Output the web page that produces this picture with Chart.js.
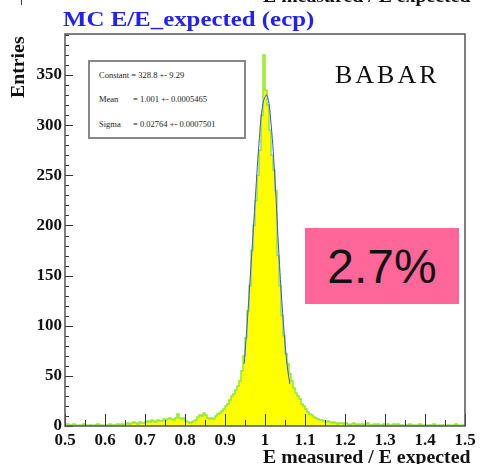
<!DOCTYPE html>
<html>
<head>
<meta charset="utf-8">
<script src="https://cdn.jsdelivr.net/npm/chart.js@4"></script>
<style>
  body { margin: 0; background: #fff; }
  #wrap { position: relative; width: 481px; height: 464px; overflow: hidden; }
  #wrap canvas { position: absolute; left: 0; top: 0; }
  .lbl { position: absolute; white-space: nowrap; font-family: 'Liberation Serif', serif; }
  #title { left: 63px; top: 6px; font-size: 22px; font-weight: bold; color: #2222f0;
           transform: scaleX(1.13); transform-origin: 0 0; }
  #cutTitle { left: 263px; top: -14px; font-size: 18px; font-weight: bold; color: #111;
              transform: scaleX(1.1); transform-origin: 0 0; }
  #cutBar { left: 21px; top: -2px; width: 1px; height: 7px; background: #444; }
  #ytitle { left: 8px; top: 98px; font-size: 18px; font-weight: bold; color: #111;
            transform: rotate(-90deg) scaleX(1.1); transform-origin: 0 0; }
  #xtitle { left: 263px; top: 447px; font-size: 18px; font-weight: bold; color: #111;
            transform: scaleX(1.1); transform-origin: 0 0; }
  #babar { left: 335px; top: 60px; font-size: 26px; letter-spacing: 3px; color: #111; }
  #stats { left: 88px; top: 60px; width: 154px; height: 75px; border: 2px solid #888;
           background: #fff; font-family: 'Liberation Serif', serif; font-size: 8.5px; color: #222; }
  #stats div { position: absolute; left: 9px; white-space: nowrap; }
  #stats span { display: inline-block; width: 34px; }
  #pink { left: 305px; top: 228px; width: 154px; height: 76px; background: #ff6699;
          font-family: 'Liberation Sans', sans-serif; font-size: 48px; color: #111;
          display: flex; align-items: center; justify-content: center; }
</style>
</head>
<body>
<div id="wrap">
  <canvas id="histChart" width="481" height="464"></canvas>
  <div class="lbl" id="cutBar"></div>
  <div class="lbl" id="cutTitle">E measured / E expected</div>
  <div class="lbl" id="title">MC E/E_expected (ecp)</div>
  <div class="lbl" id="ytitle">Entries</div>
  <div class="lbl" id="xtitle">E measured / E expected</div>
  <div class="lbl" id="babar">BABAR</div>
  <div class="lbl" id="stats">
    <div style="top:8px">Constant = 328.8 +- 9.29</div>
    <div style="top:32px"><span>Mean</span>= 1.001 +- 0.0005465</div>
    <div style="top:57px"><span>Sigma</span>= 0.02764 +- 0.0007501</div>
  </div>
  <div class="lbl" id="pink">2.7%</div>
</div>
<script>
// histogram: 200 bins of 0.005 from 0.5 to 1.5
const binStart = 0.5;
const binWidth = 0.005;
const counts = [
  1, 2, 1, 1, 2, 1, 0, 1, 1, 2, 1, 0, 1, 1, 0, 1, 2, 1, 1, 0, 1, 1, 2, 1, 1,
  1, 2, 1, 2, 1, 2,
  3, 2, 3, 4, 3, 2, 4, 3, 3, 4,
  5, 4, 6, 5, 4, 6, 5, 5,
  7, 6, 7, 8, 7, 6, 8,
  12,
  8, 7, 8,
  5, 4, 3, 4, 5, 6,
  9, 11, 10, 13, 11,
  8, 7, 8, 7, 10,
  12, 13, 15, 17,
  20, 22, 26,
  30, 32, 36,
  40, 45, 55, 70,
  88, 115, 140, 175, 200, 225, 250, 275, 310,
  370,
  335,
  320,
  295, 270, 255, 235, 170, 140, 110, 90, 72,
  62, 52, 45, 38, 33, 30, 27, 22, 20, 17,
  14, 12, 11, 9, 8, 7, 6, 6, 5, 4, 5, 4, 3, 4, 3, 2, 3, 3, 2, 3,
  2, 1, 2, 3, 1, 2, 1, 2, 1, 2, 3, 1, 1, 2, 1, 2, 1, 1, 2, 1,
  2, 1, 1, 2, 1, 2, 1, 1, 0, 1, 1, 2, 1, 1, 0, 1, 2, 1, 1, 1,
  0, 1, 1, 2, 1, 0, 1, 1, 1, 0, 1, 1, 0, 1, 2, 1, 0, 1, 1
];

// gaussian fit curve as drawn
const fitX = [0.948, 0.955, 0.965, 0.975, 0.985, 0.995, 1.005, 1.015, 1.025, 1.035, 1.045, 1.055, 1.062];
const fitY = [62, 100, 160, 222, 282, 322, 330, 302, 245, 170, 108, 62, 42];

const xTicks = [0.5, 0.6, 0.7, 0.8, 0.9, 1.0, 1.1, 1.2, 1.3, 1.4, 1.5];
const yTicks = [0, 50, 100, 150, 200, 250, 300, 350];

const histPoints = counts.map((c, i) => ({ x: binStart + i * binWidth, y: c }));
histPoints.push({ x: binStart + counts.length * binWidth, y: counts[counts.length - 1] });
const fitPoints = fitX.map((x, i) => ({ x: x, y: fitY[i] }));

const tickFont = { family: 'Liberation Serif', weight: 'bold', size: 17 };

// ROOT style frame with ticks pointing inward
const frameTicks = {
    id: 'frameTicks',
    afterDatasetsDraw(chart) {
        const ctx = chart.ctx;
        const a = chart.chartArea;
        const xs = chart.scales.x, ys = chart.scales.y;
        ctx.save();
        ctx.strokeStyle = '#333';
        ctx.lineWidth = 1;
        ctx.beginPath();
        for (let k = 0; k <= 20; k++) {
            const px = Math.round(xs.getPixelForValue(0.5 + k * 0.05)) + 0.5;
            const len = k % 2 === 0 ? 12 : 6;
            ctx.moveTo(px, a.bottom);
            ctx.lineTo(px, a.bottom - len);
        }
        for (let v = 0; v <= 390; v += 10) {
            const py = Math.round(ys.getPixelForValue(v)) + 0.5;
            const len = v % 50 === 0 ? 8 : 4;
            ctx.moveTo(a.left, py);
            ctx.lineTo(a.left + len, py);
        }
        ctx.stroke();
        ctx.strokeStyle = '#555';
        ctx.lineWidth = 1.5;
        ctx.strokeRect(a.left, a.top, a.right - a.left, a.bottom - a.top);
        ctx.restore();
    }
};

const ctx = document.getElementById('histChart').getContext('2d');
new Chart(ctx, {
    type: 'line',
    data: {
        datasets: [{
            label: 'fit',
            data: fitPoints,
            borderColor: '#3a4cff',
            borderWidth: 1,
            tension: 0.4,
            pointRadius: 0,
            fill: false
        },
        {
            label: 'E/E_expected',
            data: histPoints,
            stepped: true,
            borderColor: '#8ee83a',
            backgroundColor: '#ffff00',
            borderWidth: 1.5,
            pointRadius: 0,
            fill: 'origin'
        }]
    },
    options: {
        responsive: false,
        animation: false,
        layout: { padding: { top: 34, right: 16, left: 0, bottom: 0 } },
        plugins: {
            legend: { display: false },
            tooltip: { enabled: false }
        },
        scales: {
            x: {
                type: 'linear',
                min: 0.5,
                max: 1.5,
                afterFit: s => { s.height = 38; },
                afterBuildTicks: s => { s.ticks = xTicks.map(v => ({ value: v })); },
                grid: { display: false, drawTicks: false },
                border: { display: false },
                ticks: {
                    padding: 4,
                    maxRotation: 0,
                    autoSkip: false,
                    font: tickFont,
                    color: '#111',
                    callback: v => String(Number(v.toFixed(1)))
                }
            },
            y: {
                min: 0,
                max: 391,
                afterFit: s => { s.width = 65; },
                afterBuildTicks: s => { s.ticks = yTicks.map(v => ({ value: v })); },
                grid: { display: false, drawTicks: false },
                border: { display: false },
                ticks: {
                    padding: 3,
                    autoSkip: false,
                    font: tickFont,
                    color: '#111'
                }
            }
        }
    },
    plugins: [frameTicks]
});
</script>
</body>
</html>
